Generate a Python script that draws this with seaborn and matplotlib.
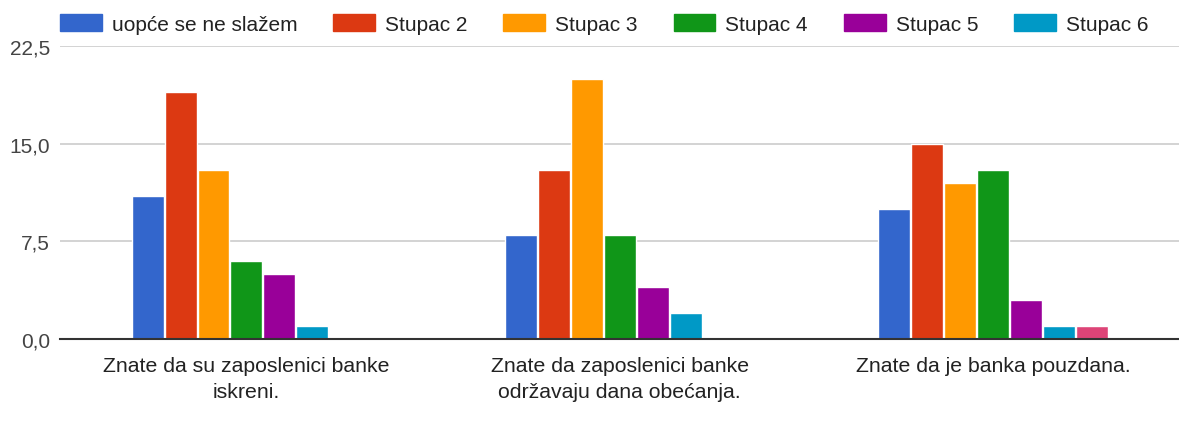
import matplotlib
matplotlib.use("Agg")
import matplotlib.pyplot as plt
import matplotlib.patches as mpatches
from matplotlib.ticker import FuncFormatter
import seaborn as sns
import pandas as pd

categories = [
    "Znate da su zaposlenici banke\niskreni.",
    "Znate da zaposlenici banke\nodržavaju dana obećanja.",
    "Znate da je banka pouzdana.",
]
series_names = ["uopće se ne slažem", "Stupac 2", "Stupac 3", "Stupac 4",
                "Stupac 5", "Stupac 6", "Stupac 7"]
values = {
    "uopće se ne slažem": [11, 8, 10],
    "Stupac 2": [19, 13, 15],
    "Stupac 3": [13, 20, 12],
    "Stupac 4": [6, 8, 13],
    "Stupac 5": [5, 4, 3],
    "Stupac 6": [1, 2, 1],
    "Stupac 7": [0, 0, 1],
}
legend_names = series_names[:6]
colors = ["#3366CC", "#DC3912", "#FF9900", "#109618", "#990099", "#0099C6", "#DD4477"]
yticks = [0, 7.5, 15, 22.5]

rows = []
for s in series_names:
    for c, v in zip(categories, values[s]):
        rows.append({"cat": c, "series": s, "value": v})
df = pd.DataFrame(rows)

sns.set_theme(style="white")
plt.rcParams["font.family"] = ["Liberation Sans", "DejaVu Sans"]

fig = plt.figure(figsize=(11.79, 4.27), dpi=100)
ax = fig.add_axes([0.0507, 0.2037, 0.9500, 0.6863])

sns.barplot(data=df, x="cat", y="value", hue="series", order=categories,
            hue_order=series_names, palette=colors, width=0.618, gap=0.03,
            saturation=1, legend=False, ax=ax, errorbar=None)

ax.set_ylim(0, 22.5)
ax.set_yticks(yticks)
ax.yaxis.set_major_formatter(FuncFormatter(lambda v, p: f"{v:.1f}".replace(".", ",")))
ax.set_xlim(-0.5, 2.5)
ax.grid(axis="y", color="#CCCCCC", linewidth=1.2)
ax.set_axisbelow(True)
for sp in ["top", "right", "left"]:
    ax.spines[sp].set_visible(False)
ax.spines["bottom"].set_color("#333333")
ax.spines["bottom"].set_linewidth(1.5)
ax.tick_params(axis="y", length=0, labelsize=15, labelcolor="#444444", pad=7)
ax.tick_params(axis="x", length=0, labelsize=15.3, labelcolor="#222222", pad=12)
ax.set_xlabel("")
ax.set_ylabel("")
for t in ax.get_xticklabels():
    t.set_linespacing(1.5)

handles = [mpatches.Patch(color=colors[i], label=legend_names[i]) for i in range(6)]
fig.legend(handles=handles, loc="center left", bbox_to_anchor=(0.0509, 0.9415), ncol=6,
           frameon=False, fontsize=15, handlelength=2.0, handleheight=0.82,
           handletextpad=0.48, columnspacing=1.73, labelcolor="#222222",
           borderaxespad=0, borderpad=0)

fig.savefig("out.png", dpi=100)
